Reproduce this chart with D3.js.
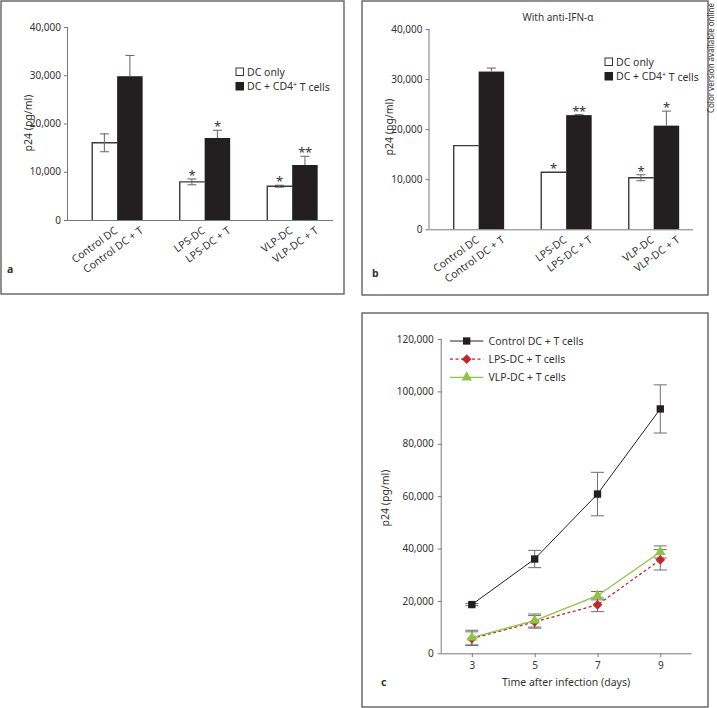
<!DOCTYPE html>
<html>
<head>
<meta charset="utf-8">
<script src="https://cdn.jsdelivr.net/npm/d3@7"></script>
<style>
  html, body { margin: 0; padding: 0; background: #fff; }
  svg { display: block; font-family: "Noto Sans", "Open Sans", sans-serif; }
  text { fill: #333; }
</style>
</head>
<body>
<svg id="chart" width="717" height="708"></svg>
<script>
// ---------- DATA ----------
const groups = ["Control", "LPS", "VLP"];
const barLabels = [["Control DC", "Control DC + T"], ["LPS-DC", "LPS-DC + T"], ["VLP-DC", "VLP-DC + T"]];
const seriesNames = ["DC only", "DC + CD4"];

// Panel a
const aDcOnly = [16000, 7900, 7000];
const aDcOnlyErr = [1850, 600, 200];
const aDcT = [29800, 17000, 11400];
const aDcTErr = [4300, 1600, 1800];
const aSigDcOnly = ["", "*", "*"];
const aSigDcT = ["", "*", "**"];

// Panel b (with anti-IFN-α)
const bDcOnly = [16700, 11400, 10300];
const bDcOnlyErr = [0, 0, 600];
const bDcT = [31500, 22800, 20700];
const bDcTErr = [700, 100, 2900];
const bSigDcOnly = ["", "*", "*"];
const bSigDcT = ["", "**", "*"];

const barTicks = [0, 10000, 20000, 30000, 40000];

// Panel c (time course)
const days = [3, 5, 7, 9];
const controlT = [18600, 36000, 60800, 93300];
const controlTErr = [400, 3300, 8300, 9200];
const lpsT = [5600, 12000, 18500, 35700];
const lpsTErr = [2600, 2400, 2600, 3900];
const vlpT = [6000, 12500, 22000, 38700];
const vlpTErr = [2800, 2500, 1600, 2300];
const lineTicks = [0, 20000, 40000, 60000, 80000, 100000, 120000];
const lineSeriesNames = ["Control DC + T cells", "LPS-DC + T cells", "VLP-DC + T cells"];

// ---------- DRAW ----------
const svg = d3.select("#chart");
const fmt = d3.format(",");
const AXIS = "#7a7a7a";
const ERR = "#6e6e6e";
const BLACK = "#231f20";

// panel frames
const frames = [[1, 1, 343, 293], [362, 1, 346, 294], [362, 313, 346, 394]];
frames.forEach(f => svg.append("rect").attr("x", f[0]).attr("y", f[1]).attr("width", f[2]).attr("height", f[3])
  .attr("fill", "none").attr("stroke", "#555").attr("stroke-width", 1.3));

svg.append("text").attr("transform", "translate(714,3) rotate(-90)")
  .attr("text-anchor", "end").style("font-size", "8.5px").attr("fill", "#444")
  .attr("textLength", 110).attr("lengthAdjust", "spacingAndGlyphs")
  .text("Color version available online");

function barPanel(o) {
  const g = svg.append("g");
  const y = d3.scaleLinear().domain([0, 40000]).range([o.y0, o.y1]);
  const x = d3.scaleBand().domain(groups).range([o.xAxis, o.xAxis + 273.3]).paddingInner(0.417).paddingOuter(0.27);
  const sub = d3.scaleBand().domain([0, 1]).range([0, x.bandwidth()]);

  // y axis
  const ya = g.append("g").attr("transform", `translate(${o.xAxis},0)`)
    .call(d3.axisLeft(y).tickValues(barTicks).tickFormat(fmt).tickSize(4).tickPadding(3));
  ya.select(".domain").attr("stroke", AXIS).attr("d", `M-0.5,${o.y0}V${o.y1}`);
  ya.selectAll(".tick line").attr("stroke", AXIS);
  ya.selectAll(".tick text").style("font-size", "10px").attr("fill", "#333").style("font-family", "Noto Sans");

  // bars
  const vals = [o.dcOnly, o.dcT], errs = [o.dcOnlyErr, o.dcTErr], sigs = [o.sigOnly, o.sigT];
  groups.forEach((grp, gi) => {
    [0, 1].forEach(s => {
      const bx = x(grp) + sub(s), bw = sub.bandwidth();
      const v = vals[s][gi], e = errs[s][gi];
      const cx = bx + bw / 2;
      if (e > 0) {
        [v - e, v + e].forEach(t => g.append("line").attr("x1", cx - 4.5).attr("x2", cx + 4.5).attr("y1", y(t)).attr("y2", y(t)).attr("stroke", ERR).attr("stroke-width", 1.1));
      }
      if (s === 1) {
        g.append("rect").attr("x", bx).attr("y", y(v)).attr("width", bw).attr("height", o.y0 - y(v)).attr("fill", BLACK);
        if (e > 0) g.append("line").attr("x1", cx).attr("x2", cx).attr("y1", y(v + e)).attr("y2", y(v)).attr("stroke", ERR).attr("stroke-width", 1.1);
      } else {
        g.append("path").attr("d", `M${bx + 0.6},${o.y0}V${y(v)}H${bx + bw}`).attr("fill", "none").attr("stroke", "#3a3a3a").attr("stroke-width", 1.4);
        if (e > 0) {
          g.append("line").attr("x1", cx).attr("x2", cx).attr("y1", y(v - e)).attr("y2", y(v + e)).attr("stroke", ERR).attr("stroke-width", 1.1);
        }
      }
      if (sigs[s][gi]) {
        g.append("text").attr("x", cx).attr("y", y(v + e) + 1).attr("text-anchor", "middle")
          .style("font-size", "13px").attr("fill", "#444").attr("letter-spacing", "-0.5px").text(sigs[s][gi]);
      }
      // category label
      g.append("text").attr("transform", `translate(${cx + 14},${o.y0 + 12}) rotate(-36)`)
        .attr("text-anchor", "end").style("font-size", "10.5px").text(barLabels[gi][s]);
    });
  });

  // x axis line
  g.append("line").attr("x1", o.xAxis).attr("x2", o.xAxisEnd).attr("y1", o.y0 + 0.5).attr("y2", o.y0 + 0.5).attr("stroke", AXIS).attr("stroke-width", 1);

  // y label
  g.append("text").attr("transform", `translate(${o.yLabelX},${o.yLabelY}) rotate(-90)`)
    .attr("text-anchor", "middle").style("font-size", "10.5px").text("p24 (pg/ml)");

  // legend
  const lg = g.append("g").attr("transform", `translate(${o.legX},${o.legY})`);
  [0, 1].forEach(i => {
    lg.append("rect").attr("x", 0).attr("y", i * o.legStep - 4).attr("width", 7.5).attr("height", 7.5)
      .attr("fill", i ? BLACK : "#fff").attr("stroke", i ? BLACK : "#333").attr("stroke-width", 1);
    const t = lg.append("text").attr("x", 11).attr("y", i * o.legStep + 3.5).style("font-size", "10.5px");
    if (i === 0) t.text("DC only");
    else { t.append("tspan").text("DC + CD4"); t.append("tspan").attr("dy", "-0.4em").style("font-size", "7px").text("+");
           t.append("tspan").attr("dy", "0.4em").text(" T cells"); }
  });

  // panel letter
  g.append("text").attr("x", o.letterX).attr("y", o.letterY).style("font-size", "10.5px").style("font-weight", "bold").text(o.letter);
  if (o.title) g.append("text").attr("x", o.titleX).attr("y", o.titleY).attr("text-anchor", "middle").style("font-size", "10px").text(o.title);
}

barPanel({
  xAxis: 68, xAxisEnd: 333, y0: 220, y1: 27,
  dcOnly: aDcOnly, dcOnlyErr: aDcOnlyErr, dcT: aDcT, dcTErr: aDcTErr, sigOnly: aSigDcOnly, sigT: aSigDcT,
  yLabelX: 32, yLabelY: 123, legX: 236, legY: 72, legStep: 14.5, letter: "a", letterX: 7, letterY: 273
});
barPanel({
  xAxis: 429.5, xAxisEnd: 693, y0: 229.3, y1: 29,
  dcOnly: bDcOnly, dcOnlyErr: bDcOnlyErr, dcT: bDcT, dcTErr: bDcTErr, sigOnly: bSigDcOnly, sigT: bSigDcT,
  yLabelX: 393, yLabelY: 127, legX: 605, legY: 62, legStep: 14.5, letter: "b", letterX: 372, letterY: 277,
  title: "With anti-IFN-\u03b1", titleX: 558, titleY: 21
});

// ---------- Panel c ----------
(function () {
  const g = svg.append("g");
  const x = d3.scaleLinear().domain([2.04, 10]).range([441.7, 691.7]);
  const y = d3.scaleLinear().domain([0, 120000]).range([653.3, 339]);

  const ya = g.append("g").attr("transform", "translate(441.7,0)")
    .call(d3.axisLeft(y).tickValues(lineTicks).tickFormat(fmt).tickSize(4).tickPadding(4));
  ya.select(".domain").attr("stroke", AXIS).attr("d", `M-0.5,${y(0)}V${y(120000)}`);
  ya.selectAll(".tick line").attr("stroke", AXIS);
  ya.selectAll(".tick text").style("font-size", "10px").attr("fill", "#333").style("font-family", "Noto Sans");

  const xa = g.append("g").attr("transform", `translate(0,${y(0)})`)
    .call(d3.axisBottom(x).tickValues(days).tickFormat(d3.format("d")).tickSize(4).tickPadding(5));
  xa.select(".domain").attr("stroke", AXIS).attr("d", `M441.7,0.5H691.7`);
  xa.selectAll(".tick line").attr("stroke", AXIS);
  xa.selectAll(".tick text").style("font-size", "10px").attr("fill", "#333").style("font-family", "Noto Sans");

  g.append("text").attr("x", 566).attr("y", 686).attr("text-anchor", "middle").style("font-size", "10.5px").text("Time after infection (days)");
  g.append("text").attr("transform", "translate(389,498) rotate(-90)").attr("text-anchor", "middle").style("font-size", "10.5px").text("p24 (pg/ml)");
  g.append("text").attr("x", 381).attr("y", 686).style("font-size", "10.5px").style("font-weight", "bold").text("c");

  const series = [
    { name: lineSeriesNames[0], vals: controlT, errs: controlTErr, color: "#231f20", dash: null, w: 1, marker: "square" },
    { name: lineSeriesNames[1], vals: lpsT, errs: lpsTErr, color: "#c1272d", dash: "3,2.5", w: 1.3, marker: "diamond" },
    { name: lineSeriesNames[2], vals: vlpT, errs: vlpTErr, color: "#8dc63f", dash: null, w: 1.3, marker: "triangle" }
  ];
  const sym = { square: d3.symbolSquare, diamond: d3.symbolSquare, triangle: d3.symbolTriangle };
  const size = { square: 54, diamond: 48, triangle: 48 };
  const rot = { square: "", diamond: " rotate(45)", triangle: "" };

  // error bars
  series.forEach(s => {
    days.forEach((d, i) => {
      const cx = x(d), v = s.vals[i], e = s.errs[i];
      g.append("line").attr("x1", cx).attr("x2", cx).attr("y1", y(v - e)).attr("y2", y(v + e)).attr("stroke", ERR).attr("stroke-width", 1);
      [v - e, v + e].forEach(t => g.append("line").attr("x1", cx - 6.5).attr("x2", cx + 6.5).attr("y1", y(t)).attr("y2", y(t)).attr("stroke", ERR).attr("stroke-width", 1));
    });
  });
  const line = d3.line().x((d, i) => x(days[i])).y(d => y(d));
  series.forEach(s => {
    g.append("path").datum(s.vals).attr("d", line).attr("fill", "none").attr("stroke", s.color)
      .attr("stroke-width", s.w).attr("stroke-dasharray", s.dash);
  });
  series.forEach(s => {
    days.forEach((d, i) => {
      g.append("path").attr("d", d3.symbol().type(sym[s.marker]).size(size[s.marker])())
        .attr("transform", `translate(${x(d)},${y(s.vals[i])})${rot[s.marker]}`)
        .attr("fill", s.color);
    });
  });
  // legend
  series.forEach((s, i) => {
    const ly = 341 + i * 18.2;
    g.append("line").attr("x1", 450).attr("x2", 483.3).attr("y1", ly).attr("y2", ly).attr("stroke", s.color)
      .attr("stroke-width", s.w).attr("stroke-dasharray", s.dash);
    g.append("path").attr("d", d3.symbol().type(sym[s.marker]).size(size[s.marker])())
      .attr("transform", `translate(466.7,${ly})${rot[s.marker]}`).attr("fill", s.color);
    g.append("text").attr("x", 488.5).attr("y", ly + 3.6).style("font-size", "10.5px").text(s.name);
  });
})();
</script>
</body>
</html>
